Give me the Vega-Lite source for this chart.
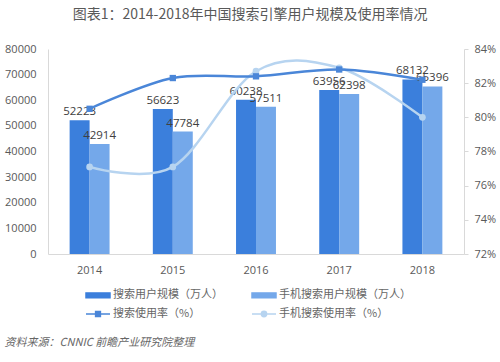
{
  "$schema": "https://vega.github.io/schema/vega-lite/v6.json",
  "padding": {"left": 4, "top": 8, "right": 5, "bottom": 5},
  "background": "white",
  "title": {
    "text": "图表1：2014-2018年中国搜索引擎用户规模及使用率情况",
    "font": "Noto Sans CJK SC",
    "fontSize": 14,
    "fontWeight": "normal",
    "color": "#595959",
    "anchor": "middle",
    "offset": 21
  },
  "datasets": {
    "bars": [
      {"year": "2014", "series": "搜索用户规模（万人）", "value": 52223},
      {"year": "2014", "series": "手机搜索用户规模（万人）", "value": 42914},
      {"year": "2015", "series": "搜索用户规模（万人）", "value": 56623},
      {"year": "2015", "series": "手机搜索用户规模（万人）", "value": 47784},
      {"year": "2016", "series": "搜索用户规模（万人）", "value": 60238},
      {"year": "2016", "series": "手机搜索用户规模（万人）", "value": 57511},
      {"year": "2017", "series": "搜索用户规模（万人）", "value": 63956},
      {"year": "2017", "series": "手机搜索用户规模（万人）", "value": 62398},
      {"year": "2018", "series": "搜索用户规模（万人）", "value": 68132},
      {"year": "2018", "series": "手机搜索用户规模（万人）", "value": 65396}
    ],
    "rates": [
      {"year": "2014", "series": "搜索使用率（%）", "rate": 0.805},
      {"year": "2015", "series": "搜索使用率（%）", "rate": 0.823},
      {"year": "2016", "series": "搜索使用率（%）", "rate": 0.824},
      {"year": "2017", "series": "搜索使用率（%）", "rate": 0.828},
      {"year": "2018", "series": "搜索使用率（%）", "rate": 0.822},
      {"year": "2014", "series": "手机搜索使用率（%）", "rate": 0.771},
      {"year": "2015", "series": "手机搜索使用率（%）", "rate": 0.771},
      {"year": "2016", "series": "手机搜索使用率（%）", "rate": 0.827},
      {"year": "2017", "series": "手机搜索使用率（%）", "rate": 0.829},
      {"year": "2018", "series": "手机搜索使用率（%）", "rate": 0.800}
    ]
  },
  "vconcat": [
    {
      "title": {
        "text": "资料来源：CNNIC 前瞻产业研究院整理",
        "orient": "bottom",
        "anchor": "start",
        "frame": "bounds",
        "font": "Noto Sans CJK SC",
        "fontSize": 11,
        "fontStyle": "italic",
        "fontWeight": "normal",
        "color": "#666666",
        "offset": 62
      },
      "width": 416,
      "height": 205,
      "layer": [
        {
          "data": {"name": "bars"},
          "encoding": {
            "x": {
              "field": "year", "type": "nominal",
              "scale": {"paddingInner": 0.52, "paddingOuter": 0.26},
              "axis": {"title": null, "labelAngle": 0, "ticks": false, "labelPadding": 10, "labelFont": "Open Sans", "labelFontSize": 11, "labelColor": "#595959", "domainColor": "#d9d9d9"}
            },
            "xOffset": {"field": "series", "type": "nominal", "sort": ["搜索用户规模（万人）", "手机搜索用户规模（万人）"], "scale": {"paddingInner": 0}},
            "y": {
              "field": "value", "type": "quantitative",
              "scale": {"domain": [0, 80000], "nice": false},
              "axis": {"title": null, "values": [0, 10000, 20000, 30000, 40000, 50000, 60000, 70000, 80000], "format": "d", "grid": false, "ticks": false, "labelPadding": 12, "labelFont": "Open Sans", "labelFontSize": 11, "labelColor": "#595959", "domainColor": "#d9d9d9"}
            }
          },
          "layer": [
            {
              "mark": {"type": "bar"},
              "encoding": {
                "color": {
                  "field": "series", "type": "nominal",
                  "scale": {
                    "domain": ["搜索用户规模（万人）", "手机搜索用户规模（万人）", "搜索使用率（%）", "手机搜索使用率（%）"],
                    "range": ["#3b7fdc", "#74a8ea", "#4a86d8", "#b7d4f0"]
                  },
                  "legend": {
                    "title": null,
                    "orient": "none",
                    "legendX": 37,
                    "legendY": 233,
                    "direction": "horizontal",
                    "columns": 2,
                    "columnPadding": 26,
                    "rowPadding": -6,
                    "labelFont": "Noto Sans CJK SC",
                    "labelFontSize": 11,
                    "labelColor": "#666666",
                    "labelOffset": 2,
                    "symbolSize": 576,
                    "labelLimit": 300,
                    "encode": {
                      "symbols": {
                        "update": {
                          "shape": {"signal": "indexof(datum.value, '规模') >= 0 ? 'M-1,-0.2H1V0.2H-1Z' : (indexof(datum.value, '手机') >= 0 ? 'M-1,0H-0.22M0.22,0H1M0.22,0A0.22,0.22 0 1 1 -0.22,0A0.22,0.22 0 1 1 0.22,0Z' : 'M-1,0H1M-0.2,-0.2H0.2V0.2H-0.2Z')"},
                          "fill": {"signal": "indexof(datum.value, '手机') >= 0 ? (indexof(datum.value, '规模') >= 0 ? '#74a8ea' : '#ffffff') : (indexof(datum.value, '规模') >= 0 ? '#3b7fdc' : '#4a86d8')"},
                          "stroke": {"signal": "indexof(datum.value, '手机') >= 0 ? (indexof(datum.value, '规模') >= 0 ? '#74a8ea' : '#b7d4f0') : (indexof(datum.value, '规模') >= 0 ? '#3b7fdc' : '#4a86d8')"},
                          "strokeWidth": {"value": 1.5},
                          "opacity": {"value": 1}
                        }
                      }
                    }
                  }
                }
              }
            },
            {
              "mark": {"type": "text", "baseline": "bottom", "dy": -3, "font": "Open Sans", "fontSize": 11.5, "color": "#404040"},
              "encoding": {"text": {"field": "value", "type": "quantitative", "format": "d"}}
            }
          ]
        },
        {
          "data": {"name": "rates"},
          "encoding": {
            "x": {
              "field": "year", "type": "nominal",
              "scale": {"paddingInner": 0.52, "paddingOuter": 0.26},
              "axis": {"title": null, "labelAngle": 0, "ticks": false, "labelPadding": 10, "labelFont": "Open Sans", "labelFontSize": 11, "labelColor": "#595959", "domainColor": "#d9d9d9"}
            },
            "y": {
              "field": "rate", "type": "quantitative",
              "scale": {"domain": [0.72, 0.84], "nice": false, "zero": false},
              "axis": {"title": null, "orient": "right", "values": [0.72, 0.74, 0.76, 0.78, 0.8, 0.82, 0.84], "format": ".0%", "grid": false, "tickSize": 4, "tickColor": "#d9d9d9", "labelPadding": 6, "labelFont": "Open Sans", "labelFontSize": 11, "labelColor": "#595959", "domainColor": "#d9d9d9"}
            },
            "color": {"field": "series", "type": "nominal"}
          },
          "layer": [
            {
              "transform": [{"filter": "datum.series === '手机搜索使用率（%）'"}],
              "mark": {"type": "line", "interpolate": "cardinal", "strokeWidth": 2.5, "point": {"filled": true, "shape": "circle", "size": 45}}
            },
            {
              "transform": [{"filter": "datum.series === '搜索使用率（%）'"}],
              "mark": {"type": "line", "interpolate": "cardinal", "strokeWidth": 2.5, "point": {"filled": true, "shape": "square", "size": 40}}
            }
          ]
        }
      ],
      "resolve": {"scale": {"y": "independent"}}
    }
  ],
  "config": {"view": {"stroke": null}}
}
